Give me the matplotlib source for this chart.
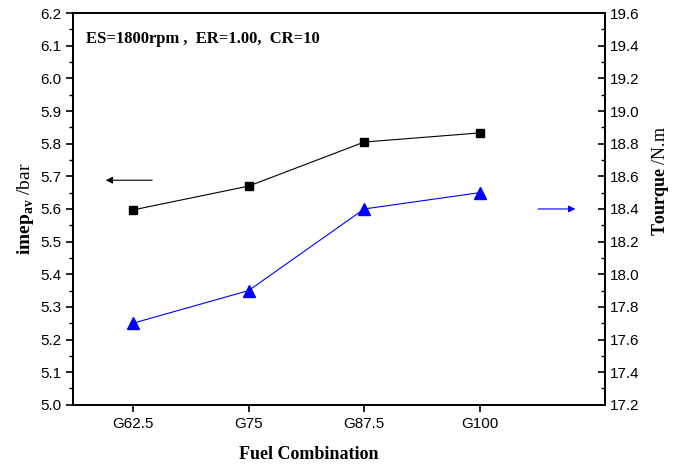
import matplotlib
matplotlib.use("Agg")
import matplotlib.pyplot as plt
from matplotlib.ticker import MultipleLocator, FormatStrFormatter

fuels = ["G62.5", "G75", "G87.5", "G100"]
imep = [5.597, 5.670, 5.805, 5.833]
torque = [17.70, 17.90, 18.40, 18.50]

SANS = "Liberation Sans"
SERIF = "Liberation Serif"
plt.rcParams["mathtext.fontset"] = "custom"
plt.rcParams["mathtext.rm"] = SERIF
plt.rcParams["mathtext.bf"] = SERIF + ":bold"

fig = plt.figure(figsize=(6.81, 4.68), dpi=100)
ax = fig.add_axes([0.107, 0.135, 0.781, 0.837])
ax2 = ax.twinx()

x = list(range(len(fuels)))
ax.plot(x, imep, color="black", marker="s", markersize=6, linewidth=0.8)
ax2.plot(x, torque, color="blue", marker="^", markersize=8, linewidth=0.8)

ax.set_xlim(-0.52, 4.08)
ax.set_ylim(5.0, 6.2)
ax2.set_ylim(17.2, 19.6)

ax.set_xticks(x, fuels)
ax.yaxis.set_major_locator(MultipleLocator(0.1))
ax.yaxis.set_minor_locator(MultipleLocator(0.05))
ax2.yaxis.set_major_locator(MultipleLocator(0.2))
ax2.yaxis.set_minor_locator(MultipleLocator(0.1))
ax.yaxis.set_major_formatter(FormatStrFormatter("%.1f"))
ax2.yaxis.set_major_formatter(FormatStrFormatter("%.1f"))

ax.tick_params(axis="both", which="major", direction="out", length=5, width=1.2, labelsize=11)
ax.tick_params(axis="y", which="minor", direction="out", length=3, width=1.0)
ax.tick_params(axis="x", which="minor", bottom=False)
ax2.tick_params(axis="y", which="major", direction="in", length=5, width=1.2, labelsize=11)
ax2.tick_params(axis="y", which="minor", direction="in", length=3, width=1.0)
for a in (ax, ax2):
    for lab in a.get_xticklabels() + a.get_yticklabels():
        lab.set_fontfamily(SANS)
    for s in a.spines.values():
        s.set_linewidth(1.3)

ax.set_xlabel("Fuel Combination", fontfamily=SERIF, fontweight="bold", fontsize=13)
ax.xaxis.set_label_coords(0.444, -0.105)
ax.set_ylabel(r"$\mathbf{imep}_{\mathbf{av}}$ /bar", fontfamily=SERIF, fontsize=14)
ax.yaxis.set_label_coords(-0.07, 0.5)
ax2.set_ylabel(r"$\mathbf{Tourque}$ /N.m", fontfamily=SERIF, fontsize=13)
ax2.yaxis.set_label_coords(1.085, 0.57)

ax.text(0.025, 0.955, "ES=1800rpm ,  ER=1.00,  CR=10", transform=ax.transAxes,
        fontfamily=SERIF, fontweight="bold", fontsize=12, va="top")

ax.annotate("", xy=(-0.26, 5.688), xytext=(0.19, 5.688),
            arrowprops=dict(arrowstyle="-|>", color="black", lw=0.8, mutation_scale=10))
ax2.annotate("", xy=(3.85, 18.40), xytext=(3.48, 18.40),
             arrowprops=dict(arrowstyle="-|>", color="blue", lw=0.8, mutation_scale=10))

fig.savefig("out.png", dpi=100, facecolor="white")
